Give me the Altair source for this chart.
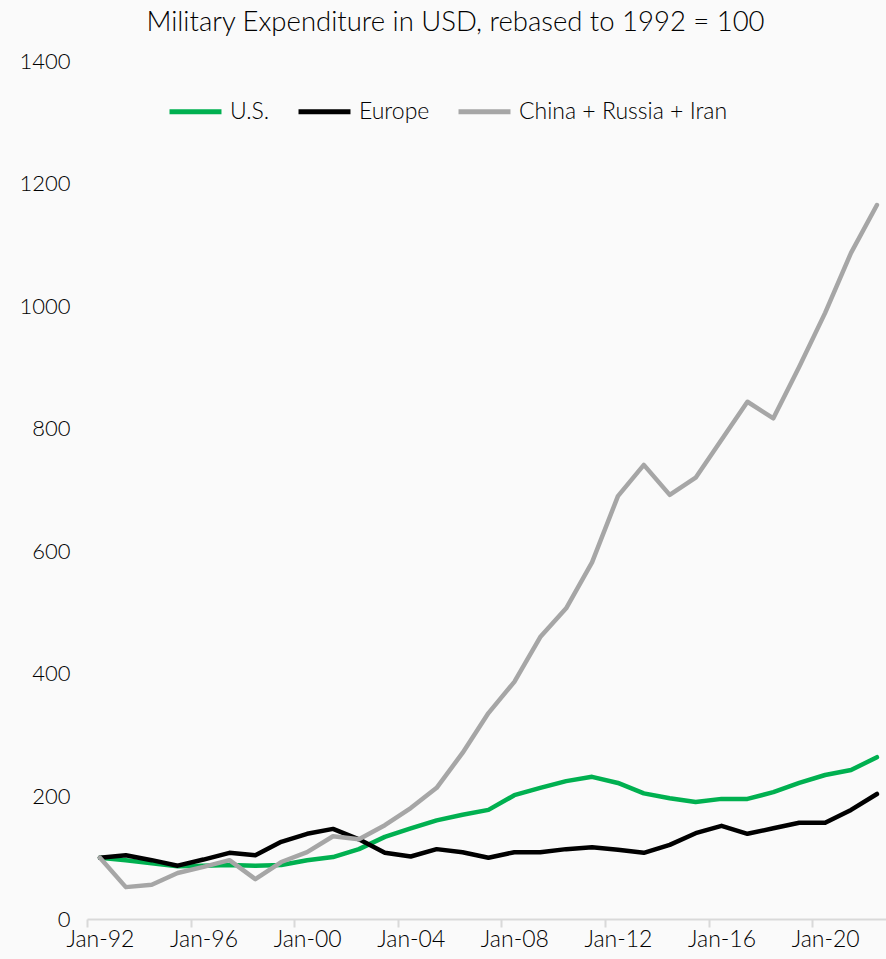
import altair as alt
import pandas as pd

years = list(range(1992, 2023))
us = [100, 96, 91, 86, 87, 88, 87, 88, 96, 101, 114, 134, 148, 161, 170, 178,
      202, 214, 225, 232, 222, 205, 197, 191, 196, 196, 207, 222, 235, 243, 264]
europe = [100, 104, 96, 87, 97, 108, 104, 126, 139, 147, 130, 108, 102, 114, 109, 100,
          109, 109, 114, 117, 113, 108, 121, 140, 152, 139, 148, 157, 157, 178, 204]
crir = [100, 52, 56, 75, 85, 96, 65, 93, 109, 135, 130, 153, 181, 214, 271, 336,
        387, 460, 507, 582, 690, 741, 692, 720, 782, 844, 817, 901, 989, 1087, 1165]

series_names = ["U.S.", "Europe", "China + Russia + Iran"]
series_colors = ["#00B050", "#000000", "#A6A6A6"]
tick_years = [1992, 1996, 2000, 2004, 2008, 2012, 2016, 2020]

rows = []
for name, vals in zip(series_names, [us, europe, crir]):
    for y, v in zip(years, vals):
        rows.append({"year": y, "value": v, "series": name, "order": series_names.index(name)})
df = pd.DataFrame(rows)

FONT = "Lato"
LBL = 22
TXT = "#000000"

label_expr = "'Jan-' + slice(toString(datum.value), 2)"

chart = alt.Chart(df).mark_line(strokeWidth=4.5, strokeJoin="round", strokeCap="round").encode(
    x=alt.X("year:Q",
            scale=alt.Scale(domain=[1991.5, 2022.35], nice=False, zero=False),
            axis=alt.Axis(values=tick_years, labelExpr=label_expr, title=None,
                          grid=False, domainColor="#D9D9D9", domainWidth=2,
                          tickColor="#D9D9D9", tickWidth=2, tickSize=8,
                          tickOffset=-13, labelOffset=13, labelPadding=1,
                          labelFont=FONT, labelFontSize=23, labelFontWeight=300,
                          labelColor=TXT)),
    y=alt.Y("value:Q",
            scale=alt.Scale(domain=[0, 1400], nice=False),
            axis=alt.Axis(values=[0, 200, 400, 600, 800, 1000, 1200, 1400], title=None,
                          format="d", grid=False, domain=False, ticks=False, labelPadding=17,
                          labelFont=FONT, labelFontSize=LBL, labelFontWeight=300,
                          labelColor=TXT)),
    color=alt.Color("series:N",
                    scale=alt.Scale(domain=series_names, range=series_colors),
                    legend=alt.Legend(title=None, orient="none", direction="horizontal",
                                      legendX=80, legendY=22,
                                      symbolType="stroke", symbolSize=2700,
                                      symbolStrokeWidth=5, labelOffset=6,
                                      columnPadding=18, labelLimit=400,
                                      labelFont=FONT, labelFontSize=23, labelFontWeight=300,
                                      labelColor=TXT)),
    order=alt.Order("order:Q"),
).properties(
    width=799,
    height=858,
    padding={"left": 87, "top": 61, "right": 0, "bottom": 40},
    autosize=alt.AutoSizeParams(type="none"),
    background="#FAFAFA",
    title=alt.TitleParams("Military Expenditure in USD, rebased to 1992 = 100",
                          font=FONT, fontSize=27.5, fontWeight=300, color=TXT,
                          anchor="middle", frame="group", dx=-31, offset=14),
).configure_view(stroke=None)

chart.save("out.html", embed_options={"renderer": "svg", "actions": False})
